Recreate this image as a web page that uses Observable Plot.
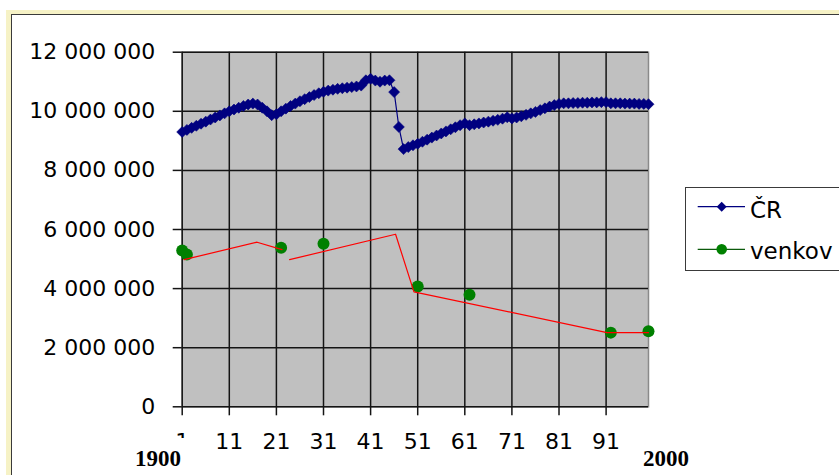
<!DOCTYPE html>
<html><head><meta charset="utf-8">
<script src="https://cdn.jsdelivr.net/npm/d3@7"></script>
<script src="https://cdn.jsdelivr.net/npm/@observablehq/plot@0.6"></script>
<style>
html,body{margin:0;padding:0;background:#fff;overflow:hidden;}
#wrap{position:relative;width:839px;height:475px;overflow:hidden;font-family:"DejaVu Sans",sans-serif;}
#frameOuter{position:absolute;left:6px;top:10px;width:900px;height:540px;border:5px solid #f6f2c6;box-sizing:border-box;}
#frameInner{position:absolute;left:11px;top:14px;width:900px;height:540px;border:1.6px solid #3a3a3a;box-sizing:border-box;}
#chart{position:absolute;left:0;top:0;}
.yr{position:absolute;background:#fff;font-family:"Liberation Serif",serif;font-weight:bold;font-size:23px;line-height:26px;color:#000;}
#legendBox{position:absolute;left:685px;top:187px;width:190px;height:84px;border:1.6px solid #3a3a3a;background:#fff;box-sizing:border-box;}
.lgText{position:absolute;font-family:"DejaVu Sans",sans-serif;font-size:23px;line-height:27px;color:#000;white-space:nowrap;}
#lgSw{position:absolute;left:690px;top:190px;}
</style></head>
<body>
<div id="wrap">
  <div id="frameOuter"></div>
  <div id="frameInner"></div>
  <div id="chart"></div>
  <div id="legendBox"></div>
  <svg id="lgSw" width="70" height="75"></svg>
  <div class="lgText" style="left:750px;top:197px;">ČR</div>
  <div class="lgText" style="left:750px;top:237.5px;">venkov</div>
  <div class="yr" style="left:131px;top:438px;padding:8px 10px 0 4px;">1900</div>
  <div class="yr" style="left:639px;top:438px;padding:8px 6px 0 4px;">2000</div>
</div>
<script>
// ---- data ----
const xTicks = [1, 11, 21, 31, 41, 51, 61, 71, 81, 91];
const yTicks = [0, 2000000, 4000000, 6000000, 8000000, 10000000, 12000000];
// ČR population (millions), categories 1..100 = years 1900..1999
const crMillions = [
  9.30, 9.37, 9.44, 9.51, 9.58, 9.65, 9.72, 9.79, 9.86, 9.93,
  10.00, 10.06, 10.12, 10.18, 10.23, 10.26, 10.23, 10.12, 10.00, 9.87,
  9.90, 10.00, 10.09, 10.18, 10.26, 10.34, 10.41, 10.48, 10.55, 10.61,
  10.66, 10.70, 10.73, 10.76, 10.78, 10.80, 10.82, 10.84, 10.87, 11.05,
  11.10, 11.04, 11.00, 11.04, 11.05, 10.65, 9.47, 8.72, 8.79, 8.85,
  8.90, 8.97, 9.04, 9.11, 9.18, 9.25, 9.32, 9.39, 9.46, 9.53,
  9.59, 9.53, 9.56, 9.59, 9.62, 9.65, 9.68, 9.71, 9.75, 9.80,
  9.76, 9.79, 9.83, 9.88, 9.93, 9.98, 10.04, 10.10, 10.16, 10.21,
  10.25, 10.27, 10.27, 10.28, 10.28, 10.29, 10.29, 10.30, 10.30, 10.31,
  10.31, 10.27, 10.27, 10.27, 10.26, 10.26, 10.26, 10.25, 10.25, 10.24
];
const venkovCats = [1, 2, 22, 31, 51, 62, 92, 100];
const venkovMillions = [5.29, 5.15, 5.38, 5.52, 4.07, 3.79, 2.51, 2.56];
// red hand-drawn trend line (null = break)
const redCats = [1.4, 16.9, 22.2, null, 23.8, 46.3, 50.2, 91.2, 100];
const redMillions = [4.98, 5.57, 5.32, null, 4.98, 5.84, 3.89, 2.51, 2.51];

const seriesNames = ["ČR", "venkov"];
const colCR = "#000080", colVenkov = "#008000", colVenkovLine = "#0b5a0b", colRed = "#ff0000";

// ---- rows ----
const M = 1e6;
const crRows = crMillions.map((v, i) => ({cat: i + 1, value: v * M}));
const venkovRows = venkovCats.map((c, i) => ({cat: c, value: venkovMillions[i] * M}));
const venkovLineRows = [];
venkovRows.forEach((r, i) => {
  if (i > 0 && r.cat - venkovRows[i - 1].cat > 1) venkovLineRows.push({cat: null, value: null});
  venkovLineRows.push(r);
});
const redRows = redCats.map((c, i) => ({cat: c, value: redMillions[i] == null ? null : redMillions[i] * M}));

const diamond = {draw(ctx, size) {
  const r = Math.sqrt(size / Math.PI);
  ctx.moveTo(0, -r); ctx.lineTo(r, 0); ctx.lineTo(0, r); ctx.lineTo(-r, 0); ctx.closePath();
}};
const fmt = d => d3.format(",")(d).replace(/,/g, " ");

const plot = Plot.plot({
  width: 839, height: 475,
  marginLeft: 181.7, marginRight: 191, marginTop: 51.7, marginBottom: 68.7,
  x: {type: "linear", domain: [1, 100]},
  y: {type: "linear", domain: [0, 12000000]},
  style: {fontFamily: "DejaVu Sans", fontSize: "22px", color: "#000", background: "transparent", overflow: "visible"},
  marks: [
    Plot.frame({fill: "#c0c0c0", stroke: "#8a8a8a", strokeWidth: 1.5}),
    Plot.ruleY(yTicks, {stroke: "#141414", strokeWidth: 1.5}),
    Plot.ruleX(xTicks, {stroke: "#141414", strokeWidth: 1.5}),
    Plot.axisY({ticks: yTicks, tickSize: 9, tickPadding: 18, tickFormat: fmt, label: null, stroke: "#141414", strokeWidth: 1.5}),
    Plot.axisX({ticks: xTicks, tickSize: 9, tickPadding: 18, tickFormat: d => String(d), label: null, stroke: "#141414", strokeWidth: 1.5}),
    Plot.line(crRows, {x: "cat", y: "value", stroke: colCR, strokeWidth: 1.2}),
    Plot.dot(crRows, {x: "cat", y: "value", symbol: diamond, r: 5.5, fill: colCR, stroke: colCR, strokeWidth: 0.6}),
    Plot.line(venkovLineRows, {x: "cat", y: "value", stroke: colVenkovLine, strokeWidth: 1}),
    Plot.dot(venkovRows, {x: "cat", y: "value", r: 6, fill: colVenkov, stroke: "none"}),
    Plot.line(redRows, {x: "cat", y: "value", stroke: colRed, strokeWidth: 1.2})
  ]
});
document.getElementById("chart").appendChild(plot);

// legend swatches
const sw = d3.select("#lgSw");
const lgY = [16.7, 59.3];
sw.append("line").attr("x1", 7.7).attr("x2", 55).attr("y1", lgY[0]).attr("y2", lgY[0]).attr("stroke", colCR).attr("stroke-width", 1.2);
sw.append("path").attr("d", "M31.7," + (lgY[0] - 5) + "L36.7," + lgY[0] + "L31.7," + (lgY[0] + 5) + "L26.7," + lgY[0] + "Z").attr("fill", colCR);
sw.append("line").attr("x1", 7.7).attr("x2", 55).attr("y1", lgY[1]).attr("y2", lgY[1]).attr("stroke", colVenkovLine).attr("stroke-width", 1.2);
sw.append("circle").attr("cx", 31.7).attr("cy", lgY[1]).attr("r", 5.3).attr("fill", colVenkov);
</script>
</body></html>
